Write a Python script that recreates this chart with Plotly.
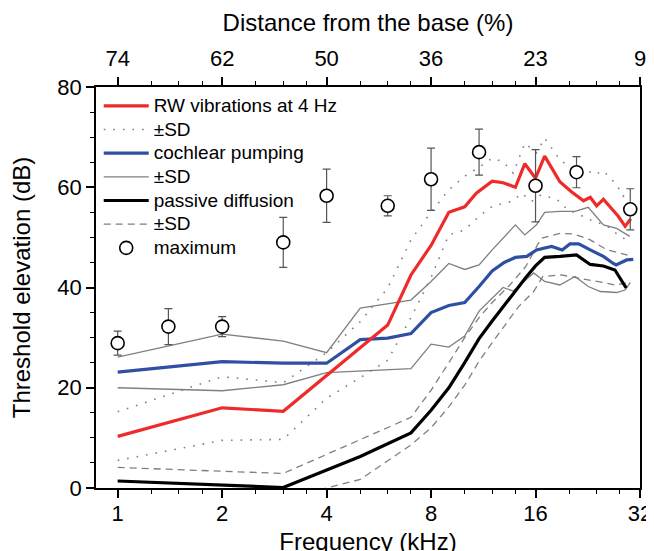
import numpy as np
import plotly.graph_objects as go

# ---------------- data ----------------
# RW vibrations at 4 Hz
rw_f = [1, 2, 3, 4, 5, 6, 7, 8, 9, 10, 10.8, 12, 12.9, 14, 14.9, 16, 17, 18.8, 20.3, 22, 23, 24, 25.1, 27.7, 29, 30.1]
rw_db = [10.3, 16.0, 15.3, 22.4, 27.9, 32.5, 42.5, 48.4, 55.0, 56.1, 58.8, 61.2, 60.9, 60.0, 64.7, 61.8, 66.2, 61.1, 59.1, 57.3, 58.0, 56.3, 57.6, 54.2, 52.2, 53.7]
rw_up_f = [1, 2, 3, 4, 5, 6, 7, 8, 9, 10, 11, 12, 12.9, 13.8, 14.9, 16.1, 17, 17.9, 18.8, 20.3, 22.4, 23.7, 25.1, 27.4, 28.6, 30]
rw_up_db = [15.2, 22.2, 21.0, 27.0, 33.2, 39.9, 49.5, 55.0, 59.5, 62.2, 64.0, 65.8, 65.1, 62.8, 68.8, 66.9, 69.8, 67.5, 65.5, 63.8, 63.5, 62.5, 63.3, 60.5, 58.2, 59.5]
rw_lo_f = [1, 2, 3, 4, 5, 6, 7, 8, 9, 10, 11, 12, 12.8, 13.7, 14.6, 15.6, 16.6, 18.5, 19.8, 21, 23, 25.7, 28, 30]
rw_lo_db = [5.5, 9.5, 9.7, 17.9, 22.0, 25.5, 34.0, 42.0, 50.5, 51.5, 54.2, 56.2, 56.7, 57.2, 58.8, 57.2, 58.5, 57.5, 55.5, 54.8, 53.5, 52.3, 50.2, 49.2]

# cochlear pumping
cp_f = [1, 2, 3, 4, 5, 6, 7, 8, 9, 10, 11, 12, 13, 14, 15.1, 16.1, 17.8, 19.1, 20.1, 21.3, 23, 25.1, 26.8, 27.3, 29.3, 30.6]
cp_db = [23.1, 25.2, 24.9, 24.9, 29.6, 29.9, 30.8, 35.0, 36.4, 37.0, 40.2, 43.3, 45.0, 46.0, 46.2, 47.5, 48.2, 47.5, 48.7, 48.7, 47.5, 46.2, 44.8, 44.5, 45.5, 45.6]
cp_up_f = [1, 2, 3, 4, 5, 7, 8, 9, 10, 11, 12, 13, 14, 14.9, 16.1, 17, 18.8, 20.8, 22.7, 25.1, 27.4, 29.9]
cp_up_db = [26.1, 30.7, 29.3, 27.0, 35.9, 37.5, 41.2, 44.8, 43.6, 44.5, 47.5, 50.0, 52.5, 50.5, 52.5, 55.0, 55.2, 55.2, 56.0, 52.5, 51.8, 50.2]
cp_lo_f = [1, 2, 3, 4, 7, 8, 9, 10, 11, 12.9, 13.8, 15.8, 17, 18.8, 20.8, 22.7, 24.6, 27.4, 29, 30]
cp_lo_db = [20.0, 19.4, 20.6, 23.0, 23.8, 28.7, 28.1, 30.3, 35.3, 40.0, 39.3, 42.9, 41.2, 40.5, 42.2, 40.2, 39.2, 39.0, 39.5, 41.0]

# passive diffusion
pd_f = [1, 2, 3, 5, 7, 8, 9, 10, 11, 12, 13, 14, 15, 16, 17, 18.8, 21, 23, 25.1, 27.1, 29.2]
pd_db = [1.4, 0.6, 0.1, 6.3, 11.0, 15.5, 20.0, 25.0, 29.8, 33.3, 36.5, 39.3, 42.0, 44.3, 46.0, 46.2, 46.5, 44.6, 44.3, 43.5, 39.9]
pd_up_f = [1, 2, 3, 7, 8, 9, 10, 11, 12, 13.5, 15, 16.6, 18.8, 20.6, 23, 25.7, 28.5, 30]
pd_up_db = [4.1, 3.3, 2.9, 14.1, 19.5, 25.0, 30.0, 34.0, 37.0, 40.5, 44.2, 49.8, 50.8, 50.7, 49.5, 47.5, 46.8, 46.3]
pd_lo_f = [1, 2, 3, 4, 5, 7, 8, 9, 10, 11, 12, 13.2, 14.3, 15.8, 16.8, 19, 21, 23, 25, 27, 30]
pd_lo_db = [-1.3, -2.1, -2.9, 0.0, 1.7, 8.6, 12.0, 16.2, 20.5, 25.3, 29.0, 32.9, 36.2, 39.2, 42.2, 42.5, 42.0, 41.5, 41.0, 40.5, 41.0]

# maximum
max_f = [1, 1.4, 2, 3, 4, 6, 8, 11, 16, 21, 30]
max_db = [28.9, 32.2, 32.2, 49.0, 58.3, 56.3, 61.6, 67.0, 60.3, 63.0, 55.6]
max_err = [2.4, 3.6, 2.0, 5.0, 5.3, 2.0, 6.2, 4.6, 7.2, 3.1, 4.1]

# axis ticks
freq_ticks = [1, 2, 4, 8, 16, 32]
freq_labels = ["1", "2", "4", "8", "16", "32"]
dist_labels = ["74", "62", "50", "36", "23", "9"]
minor_f = [1.25, 1.5, 1.75, 2.5, 3, 3.5, 5, 6, 7, 10, 12, 14, 20, 24, 28]

# ---------------- figure ----------------
RED = "#ee2a2a"
BLUE = "#2f4fa3"
GRAY = "#7f7f7f"
FONT = "Liberation Sans, Arial, sans-serif"
LEG = '<span style="font-size:19px">%s</span>'

fig = go.Figure()

def add(x, y, name, color, width, dash=None, show=True, rank=1):
    fig.add_trace(go.Scatter(
        x=x, y=y, mode="lines", name=LEG % name, showlegend=show, legendrank=rank,
        line=dict(color=color, width=width, dash=dash)))

DOT = "1.6px,8px"
DASH = "7px,5px"
add(rw_up_f, rw_up_db, "±SD", GRAY, 1.6, DOT, True, 2)
add(rw_lo_f, rw_lo_db, "±SD", GRAY, 1.6, DOT, False, 2)
add(cp_up_f, cp_up_db, "±SD", GRAY, 1.3, None, True, 4)
add(cp_lo_f, cp_lo_db, "±SD", GRAY, 1.3, None, False, 4)
add(pd_up_f, pd_up_db, "±SD", GRAY, 1.3, DASH, True, 6)
add(pd_lo_f, pd_lo_db, "±SD", GRAY, 1.3, DASH, False, 6)
add(pd_f, pd_db, "passive diffusion", "black", 3.2, None, True, 5)
add(cp_f, cp_db, "cochlear pumping", BLUE, 3.2, None, True, 3)
add(rw_f, rw_db, "RW vibrations at 4 Hz", RED, 3.2, None, True, 1)

fig.add_trace(go.Scatter(
    x=max_f, y=max_db, mode="markers", name=LEG % "maximum", legendrank=7,
    marker=dict(symbol="circle", size=13, color="white",
                line=dict(color="black", width=1.6)),
    error_y=dict(type="data", array=max_err, visible=True,
                 color="#555555", thickness=1.2, width=4)))

# invisible trace to attach the top axis
fig.add_trace(go.Scatter(x=[1, 32], y=[None, None], xaxis="x2", showlegend=False,
                         hoverinfo="skip"))

xr = [np.log10(0.866), np.log10(32)]
axis_common = dict(
    type="log", range=xr, showgrid=False, zeroline=False, automargin=False,
    showline=True, linecolor="black", linewidth=1.5,
    ticks="outside", ticklen=8, tickwidth=1.5, tickcolor="black",
    tickmode="array", tickvals=freq_ticks,
    tickfont=dict(size=22, color="black", family=FONT),
    minor=dict(tickmode="array", tickvals=minor_f, ticks="outside",
               ticklen=4, tickwidth=1.2, tickcolor="black"),
)

# the page body adds an 8 px offset, so margins are reduced on the left/top
fig.update_layout(
    width=654, height=551,
    margin=dict(l=88, r=22, t=79, b=71),
    plot_bgcolor="white", paper_bgcolor="white",
    font=dict(family=FONT, color="black"),
    xaxis=dict(**axis_common, ticktext=freq_labels, ticklabelstandoff=-3,
               title=dict(text="Frequency (kHz)", font=dict(size=24), standoff=8)),
    xaxis2=dict(**axis_common, ticktext=dist_labels, overlaying="x", side="top",
                ticklabelstandoff=2,
                title=dict(text="Distance from the base (%)", font=dict(size=24), standoff=8)),
    yaxis=dict(range=[0, 80], showgrid=False, zeroline=False, automargin=False,
               showline=True, mirror=True, linecolor="black", linewidth=1.5,
               ticks="outside", ticklen=8, tickwidth=1.5, tickcolor="black",
               tickvals=[0, 20, 40, 60, 80],
               tickfont=dict(size=22, color="black", family=FONT),
               minor=dict(dtick=5, ticks="outside", ticklen=4, tickwidth=1.2, tickcolor="black"),
               title=dict(text="Threshold elevation (dB)", font=dict(size=24), standoff=21)),
    legend=dict(x=0.005, y=0.995, xanchor="left", yanchor="top",
                bgcolor="rgba(0,0,0,0)", font=dict(size=15.9, family=FONT),
                itemwidth=45, tracegroupgap=0, traceorder="normal"),
    showlegend=True,
)

fig.write_html("out.html")
